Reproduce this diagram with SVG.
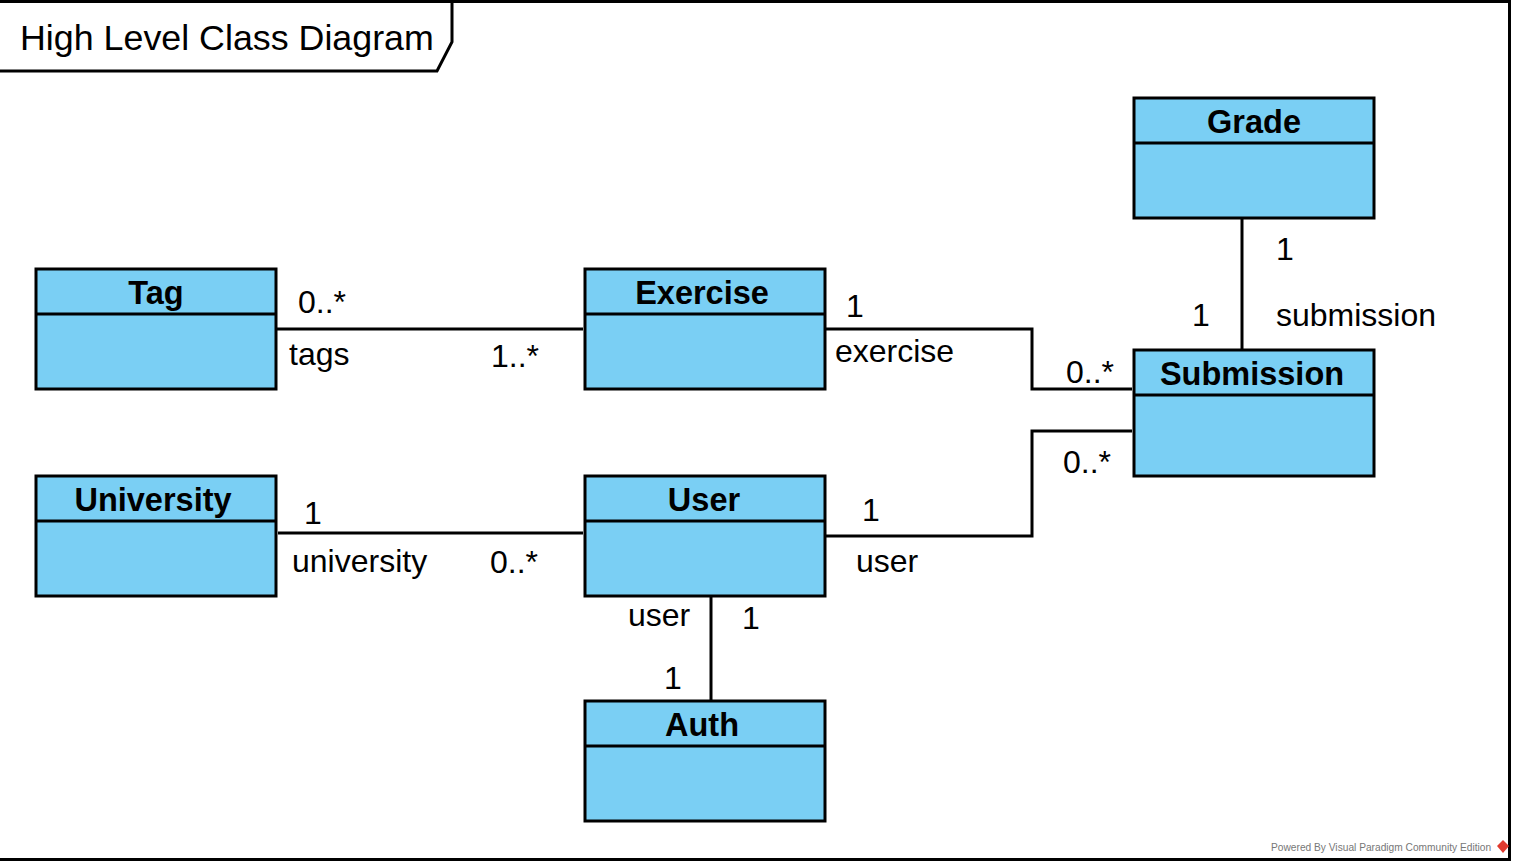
<svg xmlns="http://www.w3.org/2000/svg" width="1515" height="864" viewBox="0 0 1515 864">
<style>
.box{fill:#7acff4;stroke:#000;stroke-width:3}
.hd{stroke:#000;stroke-width:3}
.nm{font-family:"Liberation Sans",Arial,sans-serif;font-weight:bold;font-size:32.5px;text-anchor:middle;fill:#000}
.lb{font-family:"Liberation Sans",Arial,sans-serif;font-size:32px;fill:#000}
.cn{fill:none;stroke:#000;stroke-width:3}
</style>
<rect x="0" y="0" width="1515" height="864" fill="#fff"/>
<g id="frame">
<path d="M-2,1.5 H1509.5 V859.5 H-2" fill="none" stroke="#000" stroke-width="3"/>
<path d="M-2,71 H437 L452,42 V1.5" fill="none" stroke="#000" stroke-width="3"/>
<text x="20" y="50" font-family="'Liberation Sans',Arial,sans-serif" font-size="35.8" fill="#000">High Level Class Diagram</text>
</g>
<g id="connectors">
<path class="cn" d="M274,329 H583"/>
<path class="cn" d="M823,329 H1032 V389 H1132"/>
<path class="cn" d="M823,536 H1032 V431 H1132"/>
<path class="cn" d="M278,533 H583"/>
<path class="cn" d="M711,596 V701"/>
<path class="cn" d="M1242,218 V349"/>
</g>
<g id="labels">
<text class="lb" x="298" y="313">0..*</text>
<text class="lb" x="289" y="365">tags</text>
<text class="lb" x="491" y="367">1..*</text>
<text class="lb" x="846" y="317">1</text>
<text class="lb" x="835" y="362">exercise</text>
<text class="lb" x="1066" y="383">0..*</text>
<text class="lb" x="1063" y="473">0..*</text>
<text class="lb" x="1276" y="260">1</text>
<text class="lb" x="1192" y="326">1</text>
<text class="lb" x="1276" y="326">submission</text>
<text class="lb" x="304" y="524">1</text>
<text class="lb" x="292" y="572">university</text>
<text class="lb" x="490" y="573">0..*</text>
<text class="lb" x="862" y="521">1</text>
<text class="lb" x="856" y="572">user</text>
<text class="lb" x="628" y="626">user</text>
<text class="lb" x="742" y="629">1</text>
<text class="lb" x="664" y="689">1</text>
</g>
<g id="Tag"><rect class="box" x="36" y="269" width="240" height="120"/><line class="hd" x1="36" y1="314" x2="276" y2="314"/><text class="nm" x="156" y="304">Tag</text></g>
<g id="Exercise"><rect class="box" x="585" y="269" width="240" height="120"/><line class="hd" x1="585" y1="314" x2="825" y2="314"/><text class="nm" x="702" y="304">Exercise</text></g>
<g id="Grade"><rect class="box" x="1134" y="98" width="240" height="120"/><line class="hd" x1="1134" y1="143" x2="1374" y2="143"/><text class="nm" x="1254" y="133">Grade</text></g>
<g id="Submission"><rect class="box" x="1134" y="350" width="240" height="126"/><line class="hd" x1="1134" y1="395" x2="1374" y2="395"/><text class="nm" x="1252" y="385">Submission</text></g>
<g id="University"><rect class="box" x="36" y="476" width="240" height="120"/><line class="hd" x1="36" y1="521" x2="276" y2="521"/><text class="nm" x="153" y="511">University</text></g>
<g id="User"><rect class="box" x="585" y="476" width="240" height="120"/><line class="hd" x1="585" y1="521" x2="825" y2="521"/><text class="nm" x="704" y="511">User</text></g>
<g id="Auth"><rect class="box" x="585" y="701" width="240" height="120"/><line class="hd" x1="585" y1="746" x2="825" y2="746"/><text class="nm" x="702" y="736">Auth</text></g>
<g id="footer">
<text x="1271" y="851" font-family="'Liberation Sans',Arial,sans-serif" font-size="10.2" fill="#777">Powered By Visual Paradigm Community Edition</text>
<path d="M1503,840 L1509,846 L1503,853 L1497,846 Z" fill="#e03a2f"/>
</g>
</svg>
